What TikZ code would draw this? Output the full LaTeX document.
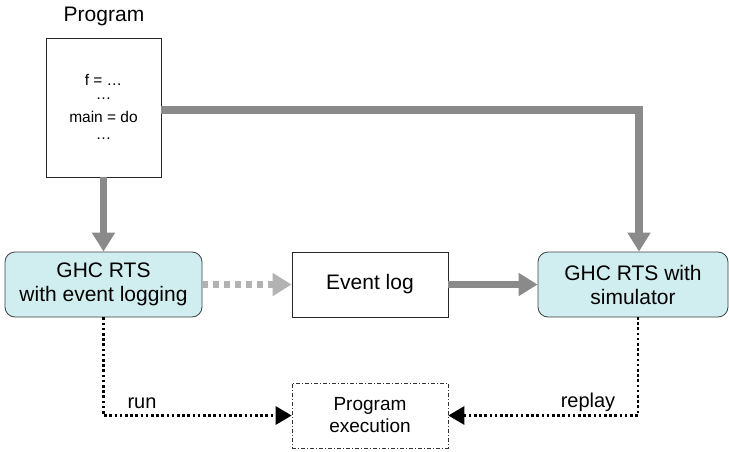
\documentclass[tikz,border=0pt]{standalone}
\usepackage{fontspec}
\setmainfont{Liberation Sans}
\usetikzlibrary{arrows.meta,calc}
\definecolor{rtsfill}{RGB}{208,238,240}
\definecolor{flowgray}{RGB}{138,138,138}
\definecolor{flowlight}{RGB}{178,178,178}
\begin{document}
\begin{tikzpicture}[x=1pt,y=-1pt,
  every node/.style={font=\fontsize{21}{24}\selectfont, inner sep=0pt, align=center},
  plainbox/.style={draw=black!85, line width=0.8pt, fill=white},
  rtsbox/.style={draw=black!75, line width=0.8pt, fill=rtsfill, rounded corners=10pt},
  execbox/.style={draw=black!80, line width=0.6pt, dash pattern=on 4pt off 2pt on 1pt off 2pt},
  grayflow/.style={draw=flowgray, line width=7.5pt, -{Triangle[length=19pt,width=22pt]}},
  grayflowdash/.style={grayflow, draw=flowlight, dash pattern=on 6pt off 5pt},
  dotflow/.style={draw=black, line width=2.8pt, dash pattern=on 2.6pt off 2.6pt, -{Triangle[length=16pt,width=18pt]}},
  small/.style={font=\fontsize{15.5}{18}\selectfont}
]
\useasboundingbox (0,0) rectangle (729,451);

\node (title) at (104,16) {Program};
\node[plainbox, minimum width=115pt, minimum height=139pt] (prog) at (103.5,107.5) {};
\node[small] (l1) at (103.5,80) {f = …};
\node[small] (l2) at (103.5,99) {…};
\node[small] (l3) at (103.5,117) {main = do};
\node[small] (l4) at (103.5,139) {…};

\node[rtsbox, minimum width=197pt, minimum height=65pt] (left) at (103.5,284.5) {GHC RTS\\with event logging};
\node[plainbox, minimum width=156pt, minimum height=65pt] (event) at (370,284.5) {Event log};
\node[rtsbox, minimum width=190pt, minimum height=65pt] (right) at (633,284.5) {GHC RTS with\\simulator};
\node[execbox, minimum width=156pt, minimum height=65pt, font=\fontsize{19}{22}\selectfont] (exec) at (370,415.5) {Program\\execution};

\coordinate (c1) at (639,110);
\coordinate (c2) at (638,317);

\draw[grayflow] (prog.south) -- (left.north);
\draw[grayflow] (prog.east |- c1) -- (c1) -- (c1 |- right.north);
\draw[grayflowdash] (left.east) -- (event.west);
\draw[grayflow] (event.east) -- (right.west);

\draw[dotflow] (left.south) |- (exec.west);
\draw[dotflow] (c2) |- (exec.east);

\node[anchor=base, font=\fontsize{20}{22}\selectfont] (run) at (142,408) {run};
\node[anchor=base, font=\fontsize{20}{22}\selectfont] (replay) at (588,407) {replay};
\end{tikzpicture}
\end{document}
